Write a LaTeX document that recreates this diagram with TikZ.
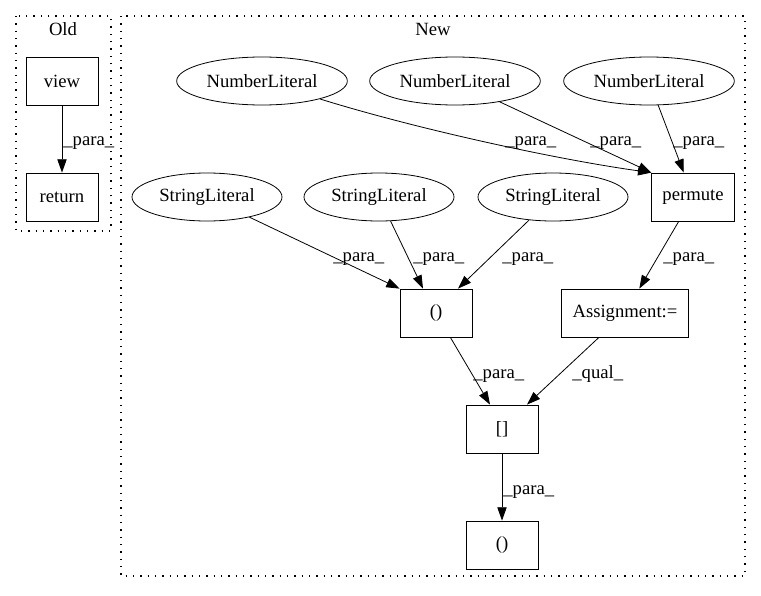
\documentclass[tikz,border=0pt]{standalone}
\usepackage{fontspec}
\setmainfont{Liberation Serif}
\usetikzlibrary{shapes.geometric, arrows.meta}

\begin{document}
\begin{tikzpicture}[x=0.75pt, y=-0.75pt, line width=0.6pt,
    font=\fontsize{14}{16}\selectfont,
    box/.style={draw, rectangle, minimum width=54pt, minimum height=36pt, inner xsep=8pt},
    lit/.style={draw, ellipse, minimum height=36pt, inner sep=0pt},
    numlit/.style={lit, minimum width=128pt},
    strlit/.style={lit, minimum width=112.5pt},
    lbl/.style={anchor=base west, inner sep=0pt},
    arr/.style={-{Triangle[length=10pt, width=7pt]}},
    cluster/.style={line width=0.9pt, dash pattern=on 0.9pt off 4.6pt}]
    \useasboundingbox (0,0) rectangle (761,596);

    \draw[cluster] (16,16) rectangle (111,231);
    \draw[cluster] (121,16) rectangle (745,576);
    \node[anchor=base](told) at ( 63, 36) {Old};
    \node[anchor=base](tnew) at (433, 36) {New};

    \node[box](view) at (62, 81) {view};
    \node[box](ret)  at (62,197) {return};

    \node[numlit](nl1) at (262, 81) {NumberLiteral};
    \node[numlit](nl2) at (455, 81) {NumberLiteral};
    \node[numlit](nl3) at (649, 81) {NumberLiteral};
    \node[strlit](sl1) at (207,197) {StringLiteral};
    \node[strlit](sl2) at (379,197) {StringLiteral};
    \node[strlit](sl3) at (553,197) {StringLiteral};
    \node[box](permute) at (693,197) {permute};
    \node[box](call1)   at (436,313) {()};
    \node[box](assign)  at (625,313) {Assignment:=};
    \node[box](index)   at (502,429) {[]};
    \node[box](call2)   at (502,545) {()};

    \draw[arr] (view) -- (ret);
    \draw[arr] (nl1) .. controls (420,130) and (560,160) .. (permute.north west);
    \draw[arr] (nl2) -- (permute.north west);
    \draw[arr] (nl3) -- (permute);
    \draw[arr] (permute) -- (assign);
    \draw[arr] (sl1) -- (call1.north west);
    \draw[arr] (sl2) -- ([xshift=-9.75pt]call1.north);
    \draw[arr] (sl3) -- ([xshift=16.5pt]call1.north);
    \draw[arr] (call1) -- ([xshift=-9pt]index.north);
    \draw[arr] (assign) -- ([xshift=18.75pt]index.north);
    \draw[arr] (index) -- (call2);

    \node[lbl](lview) at ( 63,145) {\_para\_};
    \node[lbl](lnl1)  at (505,145) {\_para\_};
    \node[lbl](lnl2)  at (590,145) {\_para\_};
    \node[lbl](lnl3)  at (673,145) {\_para\_};
    \node[lbl](lperm) at (663,261) {\_para\_};
    \node[lbl](lsl1)  at (333,261) {\_para\_};
    \node[lbl](lsl2)  at (413,261) {\_para\_};
    \node[lbl](lsl3)  at (502,261) {\_para\_};
    \node[lbl](lcall) at (473,378) {\_para\_};
    \node[lbl](lqual) at (572,378) {\_qual\_};
    \node[lbl](lidx)  at (503,494) {\_para\_};
\end{tikzpicture}
\end{document}
